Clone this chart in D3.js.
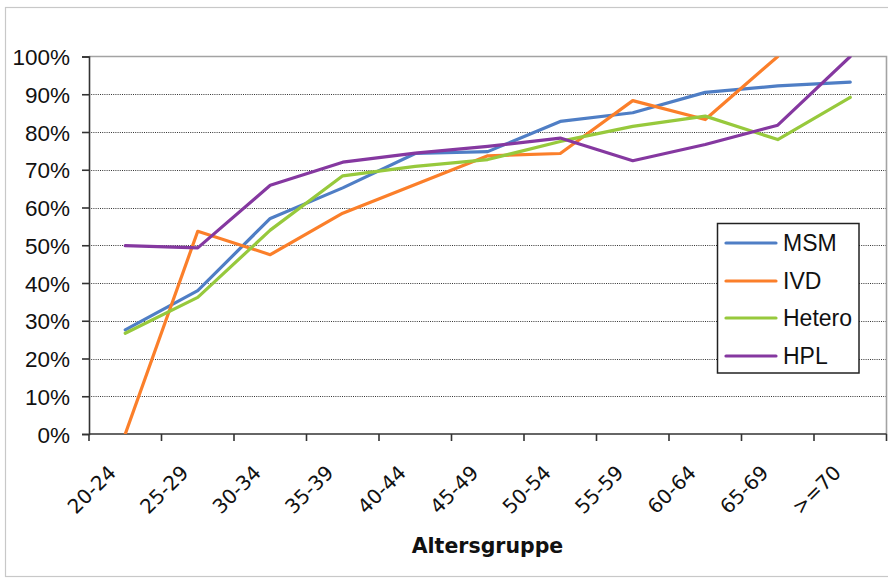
<!DOCTYPE html>
<html>
<head>
<meta charset="utf-8">
<script src="https://cdn.jsdelivr.net/npm/d3@7"></script>
<style>
  html, body { margin: 0; padding: 0; background: #fff; }
  svg { display: block; }
</style>
</head>
<body>
<svg id="chart" width="888" height="579"></svg>
<script>
const categories = ["20-24","25-29","30-34","35-39","40-44","45-49","50-54","55-59","60-64","65-69",">=70"];
const msm    = [0.276, 0.380, 0.571, 0.652, 0.743, 0.748, 0.828, 0.851, 0.905, 0.922, 0.932];
const ivd    = [0.000, 0.537, 0.475, 0.585, 0.661, 0.737, 0.743, 0.883, 0.833, 1.000, null];
const hetero = [0.267, 0.362, 0.540, 0.684, 0.709, 0.727, 0.775, 0.815, 0.842, 0.780, 0.892];
const hpl    = [0.499, 0.493, 0.659, 0.720, 0.744, 0.762, 0.784, 0.724, 0.767, 0.818, 1.000];
const seriesNames = ["MSM","IVD","Hetero","HPL"];
const seriesValues = [msm, ivd, hetero, hpl];
const seriesColors = ["#4f7ec5","#fb7f2a","#97c93c","#8538a0"];
const yTicks = [0,0.1,0.2,0.3,0.4,0.5,0.6,0.7,0.8,0.9,1.0];
const xTitle = "Altersgruppe";

const svg = d3.select("#chart");
const L = 89, R = 886.5, T = 56.5, B = 434;

// outer chart frame
svg.append("rect").attr("x",5.5).attr("y",7.5).attr("width",900).attr("height",569)
  .attr("fill","none").attr("stroke","#c8c8c8").attr("stroke-width",1.2);

const x = d3.scaleBand().domain(categories).range([L, R]);
const y = d3.scaleLinear().domain([0,1]).range([B, T]);

// gridlines
svg.append("g").selectAll("line").data(yTicks.filter(t => t > 0 && t < 1)).join("line")
  .attr("x1", L).attr("x2", R)
  .attr("y1", d => Math.round(y(d)) + 0.5).attr("y2", d => Math.round(y(d)) + 0.5)
  .attr("stroke","#333").attr("stroke-width",1).attr("stroke-dasharray","1,1.2");

// plot border top/right
svg.append("path")
  .attr("d", `M${L},${T}H${R}V${B}`)
  .attr("fill","none").attr("stroke","#a3a3a3").attr("stroke-width",1.6);

// clip
svg.append("clipPath").attr("id","plotclip").append("rect")
  .attr("x", L).attr("y", T).attr("width", R - L).attr("height", B - T);

// y axis
const yAxis = d3.axisLeft(y).tickValues(yTicks).tickFormat(d3.format(".0%")).tickSize(7).tickPadding(12);
const gy = svg.append("g").attr("transform",`translate(${L},0)`).call(yAxis);
gy.select(".domain").attr("stroke","#333").attr("stroke-width",1.6);
gy.selectAll(".tick line").attr("stroke","#333").attr("stroke-width",1.6);
gy.selectAll(".tick text").attr("font-family","'Liberation Sans', Arial, sans-serif")
  .attr("font-size",22.5).attr("fill","#111").attr("dy","0.36em");

// x axis (ticks at band edges)
const edgeScale = d3.scaleLinear().domain([0, categories.length]).range([L, R]);
const gx = svg.append("g").attr("transform",`translate(0,${B})`);
gx.append("line").attr("x1",L).attr("x2",R).attr("stroke","#333").attr("stroke-width",1.6);
gx.selectAll("line.tk").data(d3.range(categories.length + 1)).join("line").attr("class","tk")
  .attr("x1", d => edgeScale(d)).attr("x2", d => edgeScale(d))
  .attr("y1", 0).attr("y2", 7).attr("stroke","#333").attr("stroke-width",1.6);
gx.selectAll("text").data(categories).join("text")
  .attr("transform", d => `translate(${x(d) + x.bandwidth()/2 - 18},${30}) rotate(-45)`)
  .attr("text-anchor","end")
  .attr("font-family","'DejaVu Sans', sans-serif").attr("font-size",20)
  .attr("fill","#111")
  .attr("dy","0.7em")
  .text(d => d);

// x title
svg.append("text").attr("x", 487.5).attr("y", 553)
  .attr("text-anchor","middle")
  .attr("font-family","'DejaVu Sans', sans-serif").attr("font-weight","bold").attr("font-size",20.5)
  .attr("fill","#111").text(xTitle);

// lines
const line = d3.line()
  .defined(d => d.v !== null)
  .x(d => x(d.c) + x.bandwidth()/2)
  .y(d => y(d.v));
const gl = svg.append("g").attr("clip-path","url(#plotclip)");
seriesValues.forEach((vals, i) => {
  gl.append("path")
    .datum(categories.map((c, j) => ({c, v: vals[j]})))
    .attr("d", line)
    .attr("fill","none").attr("stroke", seriesColors[i]).attr("stroke-width",3.2)
    .attr("stroke-linejoin","round").attr("stroke-linecap","round");
});

// legend
const lg = svg.append("g");
lg.append("rect").attr("x",717.5).attr("y",223.5).attr("width",141.5).attr("height",149.5)
  .attr("fill","#fff").attr("stroke","#222").attr("stroke-width",1.5);
const legY = [243, 281, 318, 356];
seriesNames.forEach((n, i) => {
  lg.append("line").attr("x1",726).attr("x2",776).attr("y1",legY[i]).attr("y2",legY[i])
    .attr("stroke", seriesColors[i]).attr("stroke-width",3.2).attr("stroke-linecap","round");
  lg.append("text").attr("x",783).attr("y",legY[i]).attr("dy","0.36em")
    .attr("font-family","'Liberation Sans', Arial, sans-serif").attr("font-size",23)
    .attr("fill","#111").text(n);
});
</script>
</body>
</html>
